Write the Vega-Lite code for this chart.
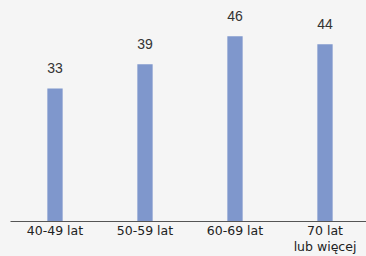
{
  "$schema": "https://vega.github.io/schema/vega-lite/v6.json",
  "width": 360,
  "height": 221,
  "autosize": {"type": "none"},
  "padding": {"left": 10, "top": 0, "right": 0, "bottom": 35},
  "background": "#f5f5f5",
  "config": {"view": {"stroke": null}},
  "data": {"values": [
    {"grupa": "40-49 lat", "wartosc": 33},
    {"grupa": "50-59 lat", "wartosc": 39},
    {"grupa": "60-69 lat", "wartosc": 46},
    {"grupa": "70 lat lub więcej", "wartosc": 44}
  ]},
  "encoding": {
    "x": {"field": "grupa", "type": "nominal", "sort": null,
      "scale": {"paddingInner": 0.83, "paddingOuter": 0.415},
      "axis": {"title": null, "labelAngle": 0, "ticks": false, "domainColor": "#555555", "labelColor": "#222222",
        "labelFont": "DejaVu Sans", "labelFontSize": 12.5, "labelPadding": 3, "labelLineHeight": 16,
        "labelExpr": "datum.value == '70 lat lub więcej' ? ['70 lat', 'lub więcej'] : datum.value"}},
    "y": {"field": "wartosc", "type": "quantitative", "scale": {"domain": [0, 55]}, "axis": null}
  },
  "layer": [
    {"mark": {"type": "bar", "color": "#7f97cc"}},
    {"mark": {"type": "text", "dy": -19, "font": "Liberation Sans", "fontSize": 14, "color": "#333333"},
     "encoding": {"text": {"field": "wartosc", "type": "quantitative"}}}
  ]
}
